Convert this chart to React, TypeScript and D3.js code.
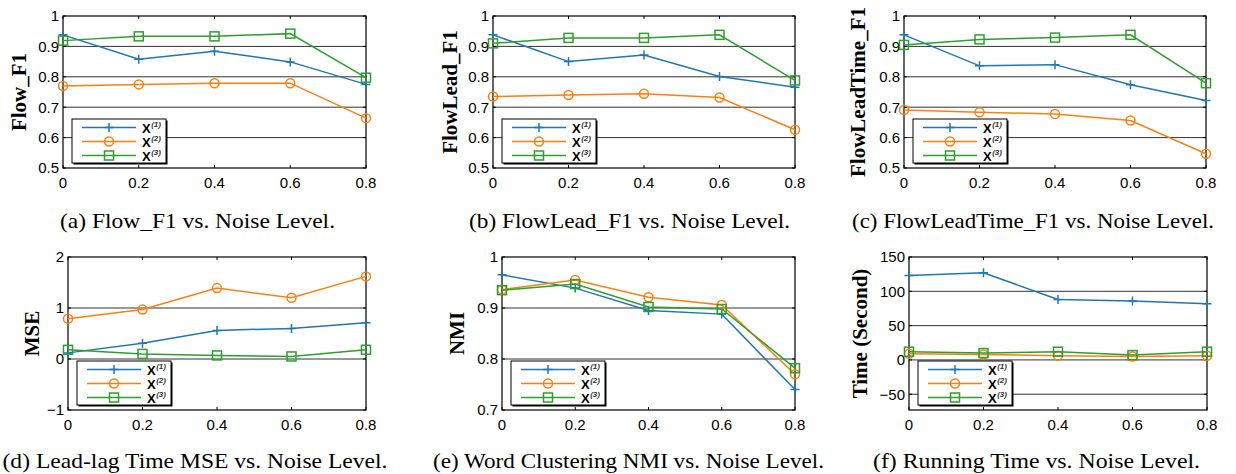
import React from "react";
import * as d3 from "d3";

const noise = [0, 0.2, 0.4, 0.6, 0.8];
const xTicks = [0, 0.2, 0.4, 0.6, 0.8];
const seriesNames = ["(1)", "(2)", "(3)"];
const colors = ["#1f77b4", "#ff7f0e", "#2ca02c"];

const flowF1_X1 = [0.938, 0.858, 0.884, 0.849, 0.775];
const flowF1_X2 = [0.770, 0.775, 0.779, 0.779, 0.664];
const flowF1_X3 = [0.919, 0.933, 0.933, 0.942, 0.797];

const flowLead_X1 = [0.938, 0.850, 0.872, 0.801, 0.766];
const flowLead_X2 = [0.735, 0.740, 0.744, 0.732, 0.626];
const flowLead_X3 = [0.910, 0.928, 0.928, 0.938, 0.788];

const flowLeadTime_X1 = [0.938, 0.836, 0.840, 0.774, 0.722];
const flowLeadTime_X2 = [0.691, 0.683, 0.678, 0.656, 0.547];
const flowLeadTime_X3 = [0.905, 0.923, 0.929, 0.938, 0.779];

const mse_X1 = [0.12, 0.31, 0.56, 0.6, 0.71];
const mse_X2 = [0.79, 0.97, 1.39, 1.2, 1.62];
const mse_X3 = [0.18, 0.1, 0.07, 0.05, 0.18];

const nmi_X1 = [0.965, 0.939, 0.895, 0.888, 0.74];
const nmi_X2 = [0.936, 0.955, 0.921, 0.906, 0.77];
const nmi_X3 = [0.935, 0.947, 0.902, 0.898, 0.782];

const time_X1 = [123, 127, 88, 86, 82];
const time_X2 = [9, 8, 6, 5, 6];
const time_X3 = [12, 10, 12, 7, 12];

const f1Ticks = [0.5, 0.6, 0.7, 0.8, 0.9, 1];
const mseTicks = [-1, 0, 1, 2];
const nmiTicks = [0.7, 0.8, 0.9, 1];
const timeTicks = [-50, 0, 50, 100, 150];

const yLabels = ["Flow_F1", "FlowLead_F1", "FlowLeadTime_F1", "MSE", "NMI", "Time (Second)"];
const captions = [
  "(a) Flow_F1 vs. Noise Level.",
  "(b) FlowLead_F1 vs. Noise Level.",
  "(c) FlowLeadTime_F1 vs. Noise Level.",
  "(d) Lead-lag Time MSE vs. Noise Level.",
  "(e) Word Clustering NMI vs. Noise Level.",
  "(f) Running Time vs. Noise Level.",
];

const SANS = "'Liberation Sans', Arial, Helvetica, sans-serif";
const SERIF = "'Liberation Serif', 'Times New Roman', Times, serif";

type Panel = {
  L: number; R: number; T: number; B: number;
  domain: [number, number];
  ticks: number[];
  series: number[][];
  yLabel: string;
  yLabelX: number;
  caption: string;
  capX: number;
  capW: number;
  capY: number;
};

const panels: Panel[] = [
  { L: 63, R: 366, T: 16, B: 168, domain: [0.5, 1], ticks: f1Ticks, series: [flowF1_X1, flowF1_X2, flowF1_X3], yLabel: yLabels[0], yLabelX: 19, caption: captions[0], capX: 197.5, capW: 275, capY: 228 },
  { L: 493, R: 795, T: 16, B: 168, domain: [0.5, 1], ticks: f1Ticks, series: [flowLead_X1, flowLead_X2, flowLead_X3], yLabel: yLabels[1], yLabelX: 450, caption: captions[1], capX: 629.5, capW: 321, capY: 228 },
  { L: 904, R: 1206, T: 16, B: 168, domain: [0.5, 1], ticks: f1Ticks, series: [flowLeadTime_X1, flowLeadTime_X2, flowLeadTime_X3], yLabel: yLabels[2], yLabelX: 858, caption: captions[2], capX: 1033, capW: 362, capY: 228 },
  { L: 68, R: 366, T: 257, B: 410, domain: [-1, 2], ticks: mseTicks, series: [mse_X1, mse_X2, mse_X3], yLabel: yLabels[3], yLabelX: 32, caption: captions[3], capX: 195, capW: 385, capY: 468 },
  { L: 502, R: 795, T: 257, B: 410, domain: [0.7, 1], ticks: nmiTicks, series: [nmi_X1, nmi_X2, nmi_X3], yLabel: yLabels[4], yLabelX: 457, caption: captions[4], capX: 628.5, capW: 391, capY: 468 },
  { L: 909, R: 1207, T: 257, B: 410, domain: [-73, 150], ticks: timeTicks, series: [time_X1, time_X2, time_X3], yLabel: yLabels[5], yLabelX: 860, caption: captions[5], capX: 1036.5, capW: 327, capY: 468 },
];

const fmt = (v: number) => d3.format("~g")(v).replace("-", "\u2212");

function Marker({ kind, x, y, color }: { kind: number; x: number; y: number; color: string }) {
  if (kind === 0)
    return (
      <path d={`M${x - 4.5},${y}H${x + 4.5}M${x},${y - 4.5}V${y + 4.5}`} stroke={color} strokeWidth={1.5} fill="none" />
    );
  if (kind === 1) return <circle cx={x} cy={y} r={4.5} stroke={color} strokeWidth={1.5} fill="none" />;
  return <rect x={x - 4.5} y={y - 4.5} width={9} height={9} stroke={color} strokeWidth={1.5} fill="none" />;
}

function ChartPanel({ p }: { p: Panel }) {
  const x = d3.scaleLinear().domain([0, 0.8]).range([p.L, p.R]);
  const y = d3.scaleLinear().domain(p.domain).range([p.B, p.T]);
  const line = d3
    .line<number>()
    .x((_, i) => x(noise[i]))
    .y((d) => y(d));
  const legL = p.L + 9;
  const legW = 94;
  const legH = 44;
  const legT = p.B - 5 - legH;
  return (
    <g>
      {p.ticks
        .filter((t) => y(t) > p.T + 1 && y(t) < p.B - 1)
        .map((t) => (
          <line key={"g" + t} x1={p.L} x2={p.R} y1={y(t)} y2={y(t)} stroke="#333" strokeWidth={1} />
        ))}
      <rect x={p.L} y={p.T} width={p.R - p.L} height={p.B - p.T} fill="none" stroke="#000" strokeWidth={1.2} />
      {xTicks.map((t) => (
        <g key={"xt" + t}>
          <line x1={x(t)} x2={x(t)} y1={p.B} y2={p.B - 3} stroke="#000" />
          <line x1={x(t)} x2={x(t)} y1={p.T} y2={p.T + 3} stroke="#000" />
          <text x={x(t)} y={p.B + 20} textAnchor="middle" fontFamily={SANS} fontSize={15}>
            {fmt(t)}
          </text>
        </g>
      ))}
      {p.ticks.map((t) => (
        <g key={"yt" + t}>
          <line x1={p.L} x2={p.L + 3} y1={y(t)} y2={y(t)} stroke="#000" />
          <line x1={p.R} x2={p.R - 3} y1={y(t)} y2={y(t)} stroke="#000" />
          <text x={p.L - 4} y={y(t)} dy="0.36em" textAnchor="end" fontFamily={SANS} fontSize={15}>
            {fmt(t)}
          </text>
        </g>
      ))}
      {p.series.map((s, k) => (
        <g key={"s" + k}>
          <path d={line(s) || ""} stroke={colors[k]} strokeWidth={1.5} fill="none" />
          {s.map((v, i) => (
            <Marker key={i} kind={k} x={x(noise[i])} y={y(v)} color={colors[k]} />
          ))}
        </g>
      ))}
      <rect x={legL + 1.5} y={legT + 1.5} width={legW} height={legH} fill="#000" />
      <rect x={legL} y={legT} width={legW} height={legH} fill="#fff" stroke="#000" strokeWidth={1} />
      {seriesNames.map((n, k) => {
        const ry = legT + 8.5 + k * 14;
        return (
          <g key={"l" + k}>
            <line x1={legL + 10} x2={legL + 64} y1={ry} y2={ry} stroke={colors[k]} strokeWidth={1.5} />
            <Marker kind={k} x={legL + 37} y={ry} color={colors[k]} />
            <text x={legL + 70} y={ry + 5} fontFamily={SANS} fontWeight="bold" fontSize={13}>
              X
              <tspan fontSize={8} fontStyle="italic" dx={0.5} dy={-6} fill="#333">
                {n}
              </tspan>
            </text>
          </g>
        );
      })}
      <text
        transform={`translate(${p.yLabelX},${(p.T + p.B) / 2}) rotate(-90)`}
        textAnchor="middle"
        dominantBaseline="central"
        fontFamily={SERIF}
        fontWeight="bold"
        fontSize={21}
      >
        {p.yLabel}
      </text>
      <text
        x={p.capX - p.capW / 2}
        y={p.capY}
        textLength={p.capW}
        lengthAdjust="spacingAndGlyphs"
        fontFamily={SERIF}
        fontSize={22}
      >
        {p.caption}
      </text>
    </g>
  );
}

export default function App() {
  return (
    <svg width={1236} height={474} style={{ position: "absolute", left: 0, top: 0, background: "#fff" }}>
      <rect width={1236} height={474} fill="#fff" />
      {panels.map((p, i) => (
        <ChartPanel key={i} p={p} />
      ))}
    </svg>
  );
}
